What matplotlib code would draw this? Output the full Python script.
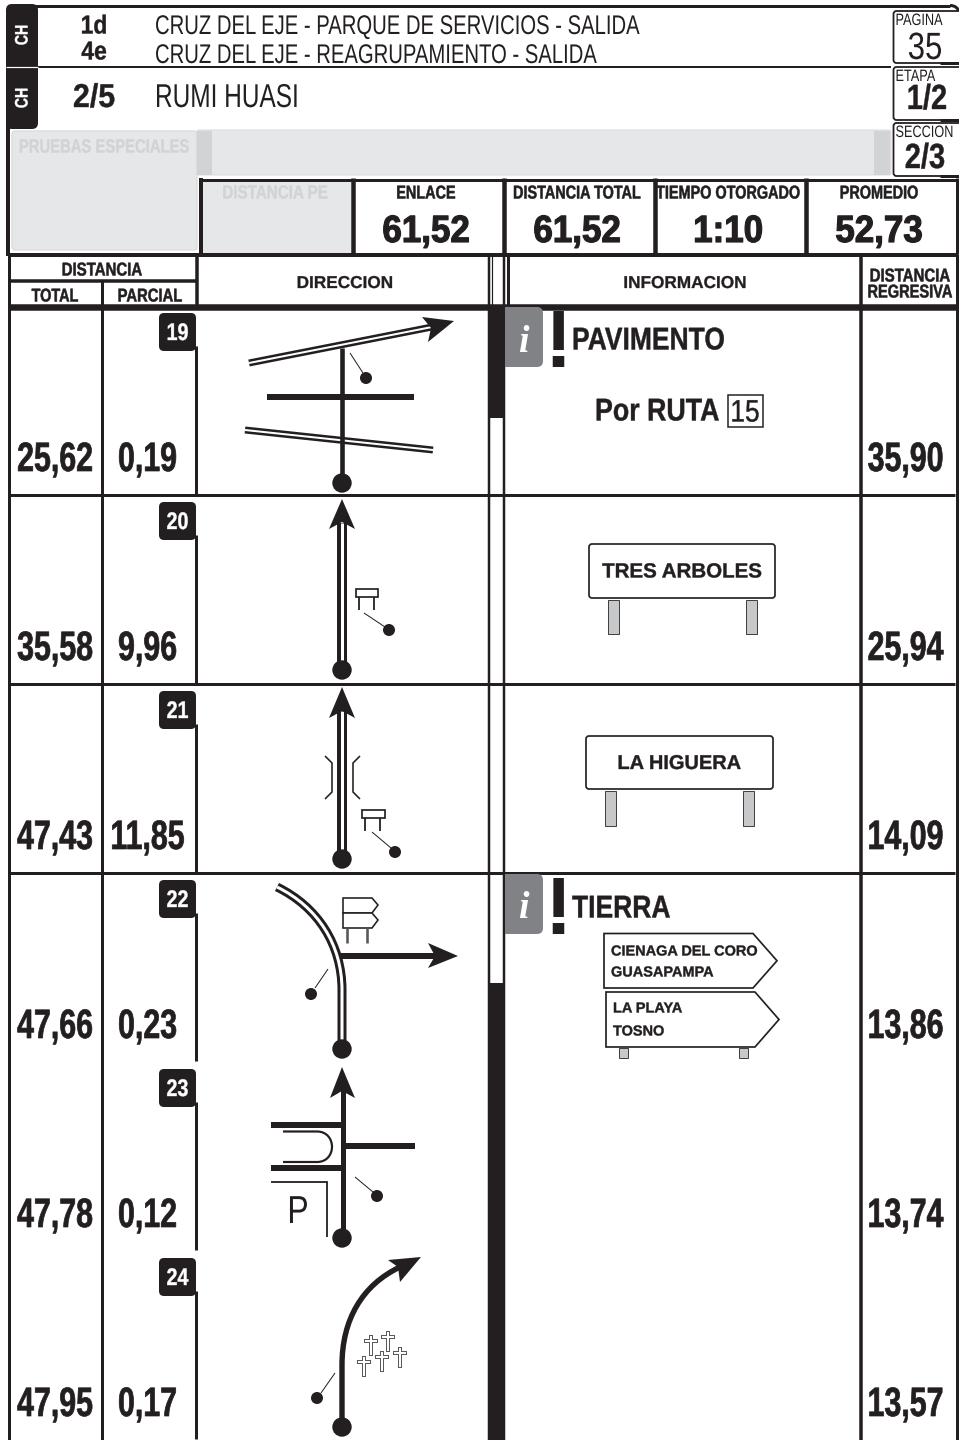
"""Rally roadbook page 35 - notes 19 to 24."""

import matplotlib
matplotlib.use("Agg")
import matplotlib.pyplot as plt
from matplotlib.patches import Circle, FancyBboxPatch, PathPatch, Polygon, Rectangle
from matplotlib.path import Path
from matplotlib.patheffects import AbstractPathEffect
from matplotlib.text import Text
from matplotlib.transforms import Affine2D, Bbox

INK = "#231f20"
PANEL = "#e6e7e8"
PANEL_DARK = "#d1d3d4"
FONT = "Liberation Sans"

# Header
start_codes = ["1d", "4e"]
start_names = ["CRUZ DEL EJE - PARQUE DE SERVICIOS - SALIDA",
               "CRUZ DEL EJE - REAGRUPAMIENTO - SALIDA"]
end_code = "2/5"
end_name = "RUMI HUASI"
side_labels = ["PAGINA", "ETAPA", "SECCION"]
side_values = ["35", "1/2", "2/3"]
stat_labels = ["ENLACE", "DISTANCIA TOTAL", "TIEMPO OTORGADO", "PROMEDIO"]
stat_values = ["61,52", "61,52", "1:10", "52,73"]

# Notes
note_numbers = ["19", "20", "21", "22", "23", "24"]
total_km = ["25,62", "35,58", "47,43", "47,66", "47,78", "47,95"]
partial_km = ["0,19", "9,96", "11,85", "0,23", "0,12", "0,17"]
remaining_km = ["35,90", "25,94", "14,09", "13,86", "13,74", "13,57"]

fig = plt.figure(figsize=(9.59, 14.4), dpi=100)
ax = fig.add_axes([0, 0, 1, 1])
ax.set_xlim(0, 959)
ax.set_ylim(1440, 0)
ax.set_aspect("equal")
ax.axis("off")


def pt(px):
    return px * 0.72


class Squeeze(AbstractPathEffect):
    """Condense glyphs around the text anchor, no condensed font is installed."""

    def __init__(self, x, y, sx, stroke=0.0, rotated=False):
        super().__init__()
        self.x = x
        self.y = y
        self.sx = sx
        self.stroke = stroke
        self.rotated = rotated

    def draw_path(self, renderer, gc, tpath, affine, rgbFace=None):
        a, b = ax.transData.transform((self.x, self.y))
        if self.rotated:
            squeeze = Affine2D().translate(0, -b).scale(1, self.sx).translate(0, b)
        else:
            squeeze = Affine2D().translate(-a, 0).scale(self.sx, 1).translate(a, 0)
        gc0 = renderer.new_gc()
        gc0.copy_properties(gc)
        if self.stroke:
            gc0.set_linewidth(pt(self.stroke))
            gc0.set_foreground(rgbFace)
        renderer.draw_path(gc0, tpath, affine + squeeze, rgbFace)
        gc0.restore()


class NarrowText(Text):
    def __init__(self, x, y, s, sx, stroke, rotated=False, **kw):
        super().__init__(x, y, s, **kw)
        self.sx = sx
        self.rotated = rotated
        self.set_path_effects([Squeeze(x, y, sx, stroke, rotated)])

    def get_window_extent(self, renderer=None, dpi=None):
        bb = super().get_window_extent(renderer, dpi)
        a, b = ax.transData.transform(self.get_position())
        if self.rotated:
            return Bbox([[bb.x0, b + (bb.y0 - b) * self.sx], [bb.x1, b + (bb.y1 - b) * self.sx]])
        return Bbox([[a + (bb.x0 - a) * self.sx, bb.y0], [a + (bb.x1 - a) * self.sx, bb.y1]])


def label(x, y, s, size, sx=1.0, weight="normal", color=INK, ha="center", stroke=None):
    if stroke is None:
        stroke = 0.4 if weight == "bold" else 0.0
    ax.add_artist(NarrowText(x, y - 1, s, sx, stroke, fontsize=pt(size), family=FONT, weight=weight,
                             color=color, ha=ha, va="center_baseline", zorder=8))


def line(xs, ys, width=2.0, color=INK, cap="butt", z=3):
    ax.plot(xs, ys, color=color, lw=pt(width), solid_capstyle=cap,
            solid_joinstyle="miter", zorder=z)


def box(x0, y0, x1, y1, color=INK, z=2, radius=0, edge="none", lw=0):
    if radius:
        style = f"round,pad=0,rounding_size={radius}"
        ax.add_patch(FancyBboxPatch((x0, y0), x1 - x0, y1 - y0, boxstyle=style,
                                    fc=color, ec=edge, lw=pt(lw), zorder=z))
    else:
        ax.add_patch(Rectangle((x0, y0), x1 - x0, y1 - y0, fc=color, ec=edge,
                               lw=pt(lw), zorder=z))


def road(points, width=10.0, gap=3.0, z=4):
    # double line road: black stroke with a white core
    xs, ys = zip(*points)
    line(xs, ys, width, z=z)
    line(xs, ys, gap, color="white", z=z + 0.1)


def curve(verts, codes, width, gap=0.0, z=4):
    path = Path(verts, codes)
    ax.add_patch(PathPatch(path, fc="none", ec=INK, lw=pt(width), capstyle="butt", zorder=z))
    if gap:
        ax.add_patch(PathPatch(path, fc="none", ec="white", lw=pt(gap), capstyle="butt", zorder=z + 0.1))


def head(tip, barb1, notch, barb2):
    ax.add_patch(Polygon([tip, barb1, notch, barb2], closed=True, fc=INK, ec="none", zorder=6))


def start_dot(x, y):
    ax.add_patch(Circle((x, y), 9.7, fc=INK, ec="none", zorder=6))


def landmark(x0, y0, x1, y1, dx, dy):
    # the thin pointer and the small dot
    line([x0, x1], [y0, y1], 1.0, z=5)
    ax.add_patch(Circle((dx, dy), 6, fc=INK, ec="none", zorder=6))


def mini_sign(x0, y0, x1, y1, post1, post2, post_end):
    box(x0, y0, x1, y1, color="white", edge=INK, lw=1.7, z=5)
    line([post1, post1], [y1, post_end], 1.8, z=5)
    line([post2, post2], [y1, post_end], 1.8, z=5)


def draw_header():
    # outer frame
    line([12, 950], [5.5, 5.5], 3.0)
    curve([(950, 5.5), (955, 5.5), (958, 8), (959, 12)],
          [Path.MOVETO, Path.CURVE4, Path.CURVE4, Path.CURVE4], 3.0)
    line([8, 8], [120, 256], 4.0)
    line([38, 891], [67, 67], 2.0)
    box(6, 4, 38, 129, radius=6, z=3)
    line([6, 38], [67, 67], 1.2, color="white", z=4)
    for y in (35, 98):
        ax.add_artist(NarrowText(23, y, "CH", 0.78, 0.4, rotated=True, fontsize=pt(18), family=FONT,
                                 weight="bold", color="white", rotation=90, ha="center",
                                 va="center", zorder=8))

    label(94, 25, start_codes[0], 26, sx=0.88, weight="bold")
    label(94, 51, start_codes[1], 26, sx=0.88, weight="bold")
    label(155, 25, start_names[0], 27, sx=0.75, ha="left")
    label(155, 54, start_names[1], 27, sx=0.75, ha="left")
    label(94, 96, end_code, 33, sx=0.92, weight="bold")
    label(155, 96, end_name, 33, sx=0.74, ha="left")

    # side boxes
    tops = [11, 67, 123]
    bottoms = [63, 120, 176]
    for i in range(3):
        box(893.5, tops[i], 975, bottoms[i], color="white", edge=INK, lw=1.8, radius=3, z=5)
        line([940, 959], [bottoms[i], bottoms[i]], 3.0, z=6)
        label(895.5, tops[i] + 9, side_labels[i], 16.5, sx=0.77, ha="left")
    label(925, 46, side_values[0], 38, sx=0.82)
    label(927, 97, side_values[1], 35, sx=0.83, weight="bold")
    label(925, 156, side_values[2], 35, sx=0.83, weight="bold")

    # grey special stage panels
    box(12, 131, 197, 250, color=PANEL, edge="#d9dadb", lw=1.2, radius=3)
    box(197, 130, 891, 175, color=PANEL, edge="#d9dadb", lw=1.0, radius=2)
    box(197, 131, 212, 175, color=PANEL_DARK, z=2.5)
    box(874, 131, 890, 175, color=PANEL_DARK, z=2.5)
    label(104, 147, "PRUEBAS ESPECIALES", 19, sx=0.78, weight="bold", color=PANEL_DARK)

    # stat boxes
    box(203, 181, 351, 253, color=PANEL)
    label(275, 193, "DISTANCIA PE", 19, sx=0.8, weight="bold", color=PANEL_DARK)
    line([199, 957], [179.5, 179.5], 3.0)
    line([201, 201], [178, 254], 4.0)
    dividers = [352.5, 504, 654.5, 805.5, 956.5]
    for x in dividers:
        line([x, x], [178, 254], 4.5 if x != 956.5 else 3.0)
    centers = [427, 578, 729, 880]
    for x, name, value in zip(centers, stat_labels, stat_values):
        label(x - 1, 193, name, 18.5, sx=0.78, weight="bold", stroke=0.5)
        label(x - 1, 229, value, 38, sx=0.92, weight="bold", stroke=1.2)


def draw_table():
    line([8, 958], [254.5, 254.5], 4.0)
    line([8.5, 8.5], [254, 1440], 3.0)
    line([956.5, 956.5], [254, 1440], 3.0)
    line([8, 958], [307, 307], 6.5, z=4)
    line([10, 196], [281, 281], 3.5)
    line([101.5, 101.5], [281, 1440], 3.0)
    line([196.5, 196.5], [254, 310], 3.5)
    line([861, 861], [254, 1440], 3.5)
    line([489, 489], [254, 1440], 2.5)
    line([492, 492], [254, 310], 1.2)
    line([504, 504], [254, 1440], 2.5)
    line([507.5, 507.5], [254, 310], 3.0)

    label(102, 270, "DISTANCIA", 18.5, sx=0.81, weight="bold", stroke=0.5)
    label(55, 296, "TOTAL", 18.5, sx=0.78, weight="bold", stroke=0.5)
    label(150, 296, "PARCIAL", 18.5, sx=0.8, weight="bold", stroke=0.5)
    label(345, 283, "DIRECCION", 17.2, weight="bold", stroke=0.3)
    label(685, 283, "INFORMACION", 17.2, weight="bold", stroke=0.3)
    label(910, 276, "DISTANCIA", 18.5, sx=0.81, weight="bold", stroke=0.5)
    label(910, 292, "REGRESIVA", 18.5, sx=0.79, weight="bold", stroke=0.5)

    # progress bar between the direction and information columns
    box(488, 310, 505, 418, z=4)
    box(488, 983, 505, 1440, z=4)

    for i, number in enumerate(note_numbers):
        top = 311 + i * 189
        bottom = top + 184
        if i < 3:
            line([10, 955], [bottom, bottom], 3.0, z=4)
        line([195.5, 195.5], [top + 35, bottom - (0 if i < 3 else 1)], 3.0)
        box(159, top + 2, 196, top + 40, radius=5, z=5)
        label(177.5, top + 21, number, 24, sx=0.82, weight="bold", color="white")
        label(55, top + 146, total_km[i], 41, sx=0.74, weight="bold", stroke=0.7)
        label(147.5, top + 146, partial_km[i], 41, sx=0.74, weight="bold", stroke=0.7)
        label(905.5, top + 146, remaining_km[i], 41, sx=0.74, weight="bold", stroke=0.7)


def draw_diagrams():
    # 19
    road([(249, 363), (432, 327)], width=7.0, gap=2.0)
    head((454, 321), (422, 317), (431, 328), (428, 342))
    road([(245, 430), (433, 450)], width=7.0, gap=2.0)
    line([342, 342], [348, 480], 4.6, z=5)
    line([267, 414], [397, 397], 6.0, z=5)
    start_dot(342, 483)
    landmark(350, 353, 363, 373, 366, 378)

    # 20
    road([(342, 523), (342, 665)])
    head((342, 499), (329, 529), (342, 522), (355, 529))
    start_dot(342, 670)
    mini_sign(355.5, 589, 378, 597, 359, 374, 610)
    landmark(364, 613, 385, 627, 389, 630)

    # 21
    road([(342, 711), (342, 855)])
    head((342, 687), (329, 718), (342, 711), (355, 718))
    start_dot(342, 859)
    line([325, 332, 332, 325], [756, 763, 792, 799], 1.6, z=5)
    line([360, 353, 353, 360], [756, 763, 792, 799], 1.6, z=5)
    mini_sign(361.5, 810, 385, 818, 365, 380, 831)
    landmark(372, 832, 391, 848, 395, 852)

    # 22
    bend = [(277, 887), (318, 907), (342, 945), (342, 990), (342, 1042)]
    bend_codes = [Path.MOVETO, Path.CURVE4, Path.CURVE4, Path.CURVE4, Path.LINETO]
    curve(bend, bend_codes, 9.0, gap=3.0)
    line([341, 436], [956, 956], 6.0, z=5)
    head((458, 956), (428, 943), (435, 956), (428, 968))
    start_dot(342, 1049)
    ax.add_patch(Polygon([(343, 898), (372, 898), (378, 905), (372, 913), (343, 913)],
                         fc="white", ec=INK, lw=pt(1.6), zorder=5))
    ax.add_patch(Polygon([(343, 913), (372, 913), (378, 920), (372, 928), (343, 928)],
                         fc="white", ec=INK, lw=pt(1.6), zorder=5))
    line([347, 347], [928, 943], 2.6, color="#58595b", z=5)
    line([367, 367], [928, 943], 2.6, color="#58595b", z=5)
    landmark(328, 969, 315, 988, 311, 994)

    # 23
    line([343, 343], [1090, 1235], 5.0, z=5)
    head((342, 1067), (330, 1098), (342, 1091), (355, 1098))
    start_dot(342, 1238)
    line([271, 343], [1125, 1125], 6.0, z=5)
    line([271, 343], [1168, 1168], 6.0, z=5)
    line([343, 415], [1146, 1146], 6.0, z=5)
    u_turn = [(283, 1131.5), (317, 1131.5), (337, 1131.5), (337, 1162), (317, 1162), (283, 1162)]
    curve(u_turn, [Path.MOVETO, Path.LINETO, Path.CURVE4, Path.CURVE4, Path.CURVE4, Path.LINETO], 2.2)
    line([271, 327, 327], [1182, 1182, 1237], 1.8, z=5)
    label(298, 1210, "P", 39, sx=0.82)
    landmark(355, 1177, 373, 1192, 377, 1196)

    # 24
    sweep = [(342, 1425), (342, 1365), (342, 1320), (362, 1285), (400, 1267)]
    curve(sweep, [Path.MOVETO, Path.LINETO, Path.CURVE4, Path.CURVE4, Path.CURVE4], 5.4)
    head((421, 1257), (388, 1260), (398, 1267), (400, 1282))
    start_dot(342, 1427)
    for x, y in [(371, 1341), (388, 1337), (364, 1362), (382, 1357), (400, 1353)]:
        line([x, x], [y - 6, y + 15], 4.0, color="#58595b", z=5)
        line([x - 7, x + 7], [y, y], 4.0, color="#58595b", z=5)
        line([x, x], [y - 5, y + 14], 2.0, color="white", z=5.1)
        line([x - 6, x + 6], [y, y], 2.0, color="white", z=5.1)
    landmark(335, 1373, 321, 1393, 317, 1398)


def info_mark(top):
    # only the right corners are rounded
    box(505, top, 543, top + 60, color="#808285", radius=6, z=5)
    box(505, top, 515, top + 60, color="#808285", z=5)
    ax.text(523, top + 31, "i", fontsize=pt(38), family="Liberation Serif", color="white",
            style="italic", weight="bold", ha="center", va="center_baseline", zorder=8)
    ax.text(557.5, top + 60, "!", fontsize=pt(82), family=FONT, weight="bold", color=INK,
            ha="center", va="baseline", zorder=6)


def road_sign(x0, y0, x1, y1, text, size, post_end):
    box(x0, y0, x1, y1, color="white", edge=INK, lw=1.7, radius=3, z=5)
    label((x0 + x1) / 2, (y0 + y1) / 2, text, size, weight="bold")
    for px in (x0 + 18.5, x0 + 156.5):
        box(px, y1 + 2, px + 11.5, post_end, color="#c7c8ca", edge="#414042", lw=1.0, z=5)


def arrow_sign(x0, y0, x1, y1, tip, lines, ys):
    mid = (y0 + y1) / 2
    ax.add_patch(Polygon([(x0, y0), (x1, y0), (tip, mid), (x1, y1), (x0, y1)], fc="white",
                         ec=INK, lw=pt(1.7), zorder=5))
    for s, y in zip(lines, ys):
        label(x0 + 7, y, s, 14.5, weight="bold", ha="left")


def draw_info():
    info_mark(307)
    label(572, 339, "PAVIMENTO", 31.5, sx=0.84, weight="bold", ha="left")
    label(595, 410, "Por RUTA", 31.5, sx=0.85, weight="bold", ha="left")
    box(727.5, 394.5, 762.5, 427, color="white", edge=INK, lw=1.5, z=4)
    label(745, 411, "15", 31, sx=0.85, stroke=0.4)

    road_sign(589, 544, 775, 598, "TRES ARBOLES", 20.5, 634)
    road_sign(586, 736, 773, 789, "LA HIGUERA", 20.0, 826)

    info_mark(874)
    label(572, 907, "TIERRA", 31.5, sx=0.84, weight="bold", ha="left")
    arrow_sign(604, 933.5, 753, 988, 777, ["CIENAGA DEL CORO", "GUASAPAMPA"], [951, 972])
    arrow_sign(606, 992, 755, 1047, 779, ["LA PLAYA", "TOSNO"], [1008, 1031])
    for px in (618.5, 739):
        box(px, 1048, px + 9, 1058, color="#c7c8ca", edge="#414042", lw=1.0, z=5)


draw_header()
draw_table()
draw_diagrams()
draw_info()

fig.savefig("out.png", dpi=100)
